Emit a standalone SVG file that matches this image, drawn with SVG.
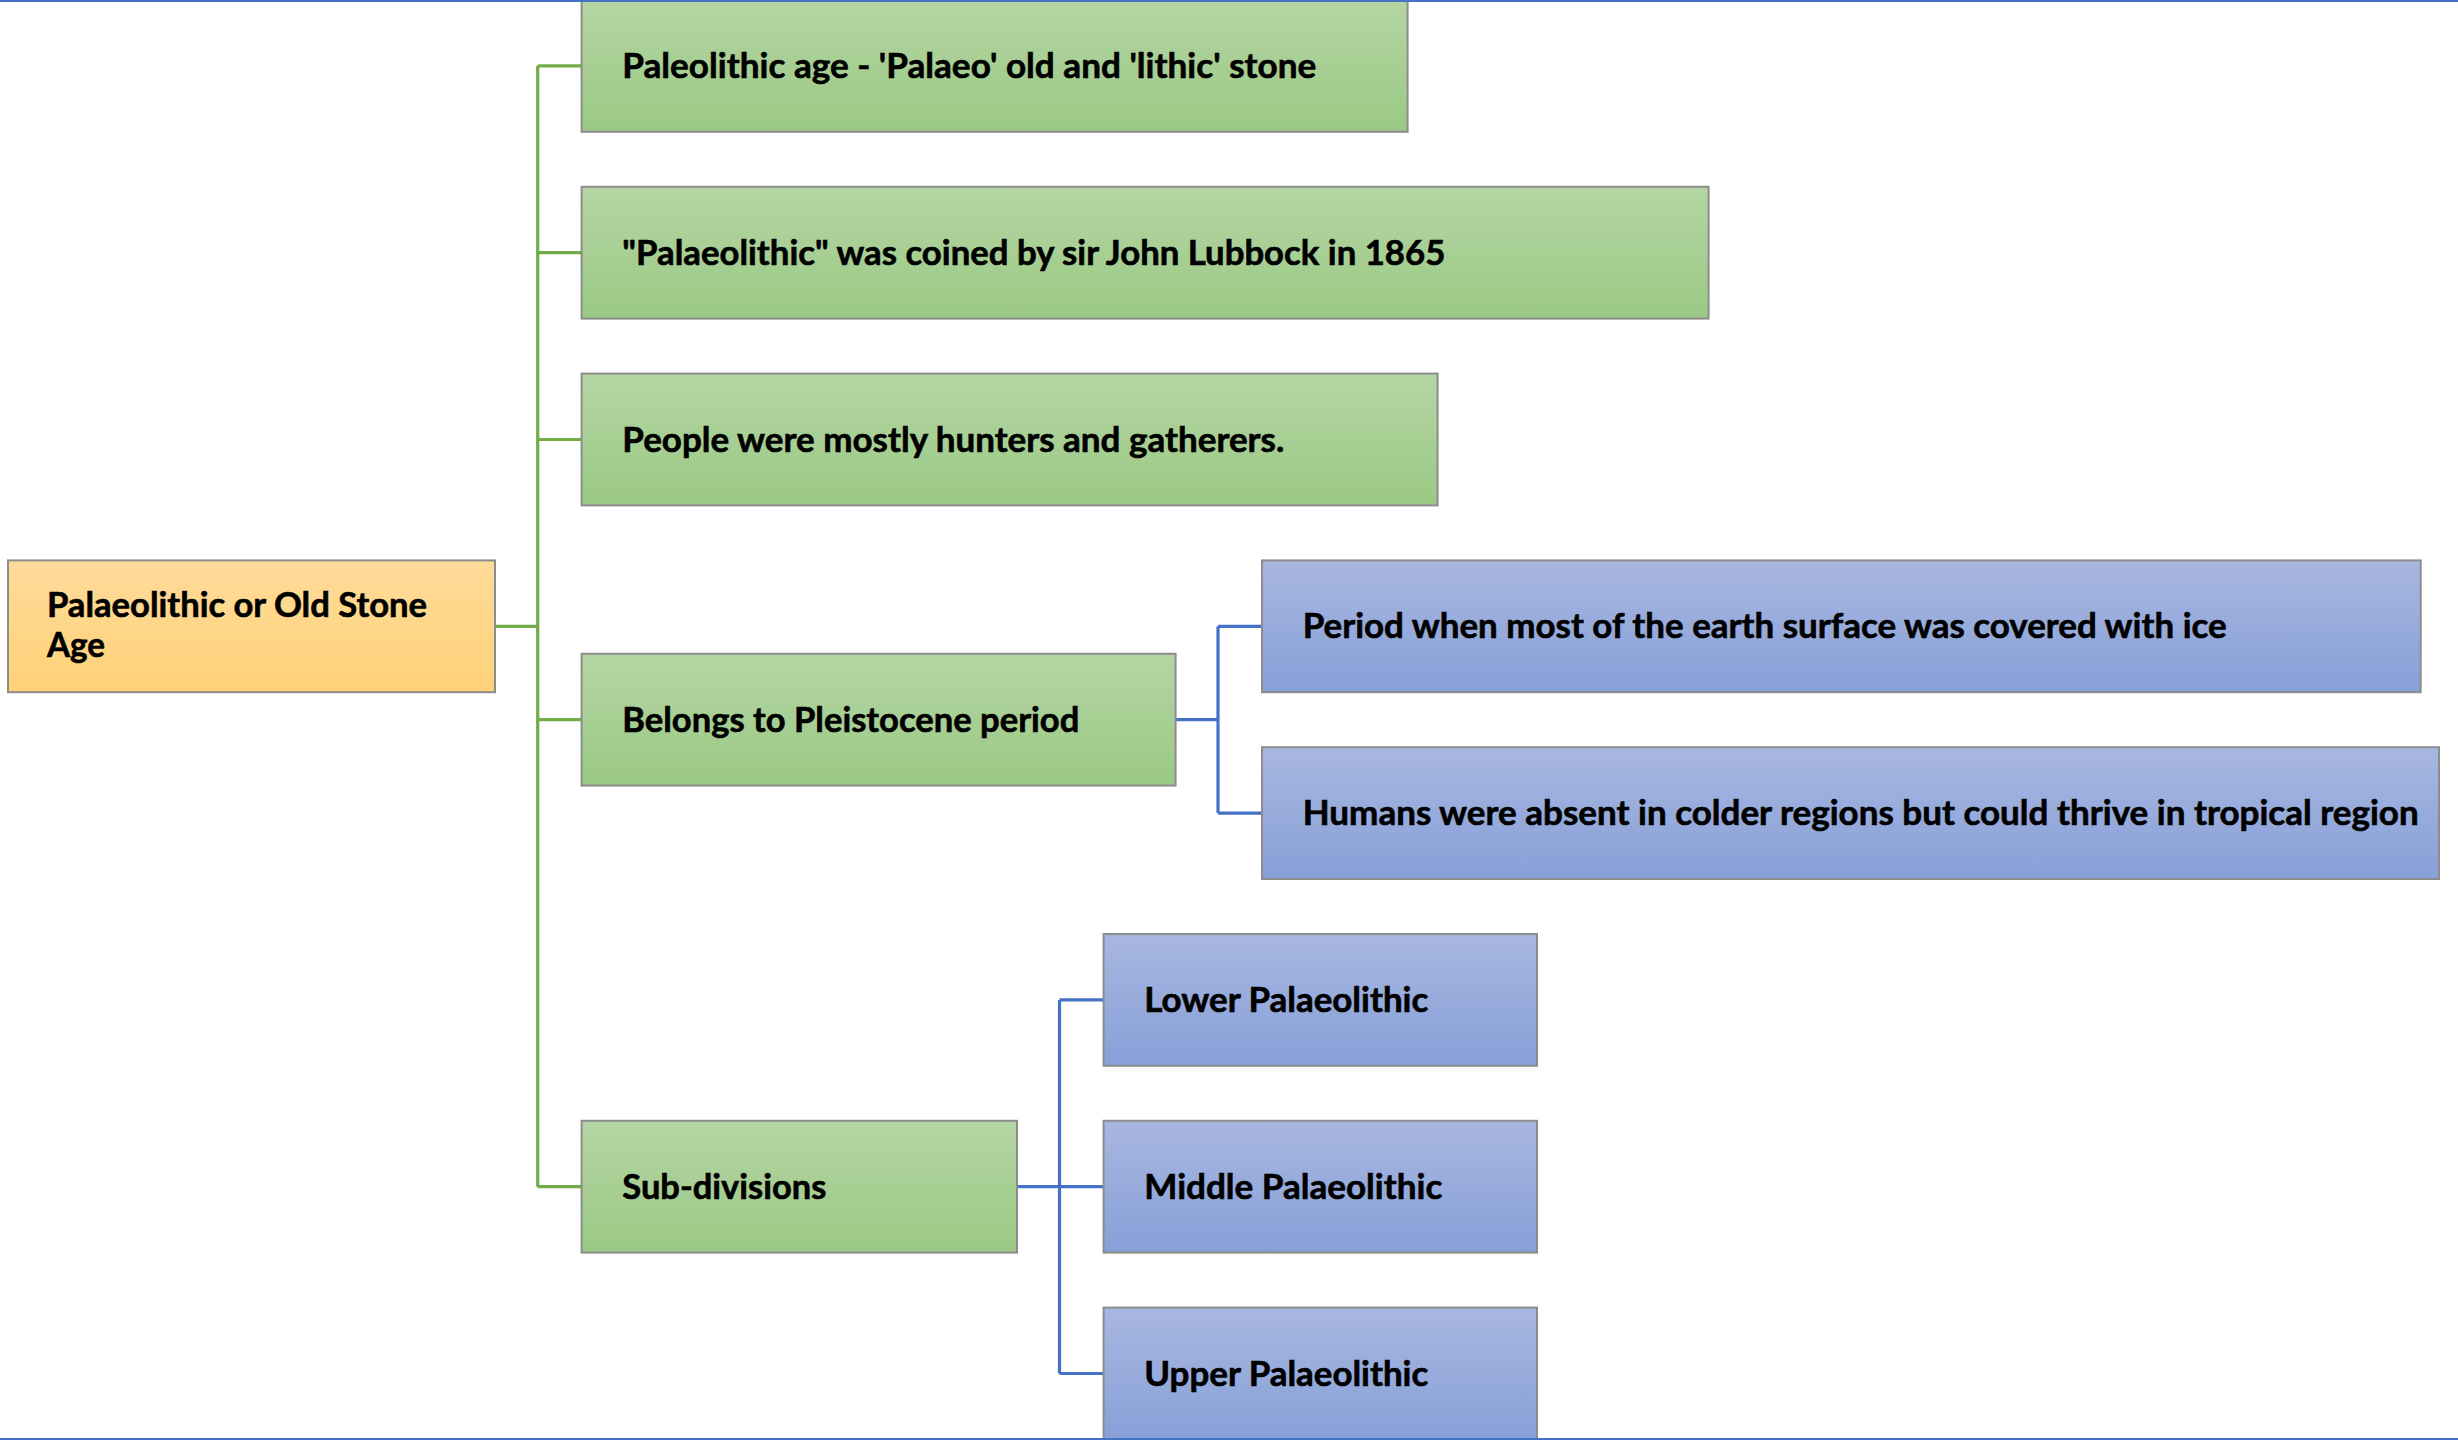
<svg xmlns="http://www.w3.org/2000/svg" width="2458" height="1440" viewBox="0 0 2458 1440">
  <defs>
    <linearGradient id="gGreen" x1="0" y1="0" x2="0" y2="1">
      <stop offset="0" stop-color="#b4d5a3"/>
      <stop offset="1" stop-color="#9bc985"/>
    </linearGradient>
    <linearGradient id="gGold" x1="0" y1="0" x2="0" y2="1">
      <stop offset="0" stop-color="#ffdb9a"/>
      <stop offset="1" stop-color="#ffd278"/>
    </linearGradient>
    <linearGradient id="gBlue" x1="0" y1="0" x2="0" y2="1">
      <stop offset="0" stop-color="#a8b7e0"/>
      <stop offset="1" stop-color="#87a0d8"/>
    </linearGradient>
  </defs>
  <style>
    .box { stroke: #8c8c8c; stroke-width: 2; }
    .green { fill: url(#gGreen); }
    .gold { fill: url(#gGold); }
    .blue { fill: url(#gBlue); }
    .lbl { font-family: Lato, "Liberation Sans", sans-serif; font-weight: 700; font-size: 34px; fill: #000; stroke: #000; stroke-width: 0.6; }
    .cg { fill: none; stroke: #70ad47; stroke-width: 3.2; }
    .cb { fill: none; stroke: #4472c4; stroke-width: 3.2; }
    .frame { stroke: #4472c4; stroke-width: 2; }
  </style>

  <rect width="2458" height="1440" fill="#ffffff"/>

  <!-- connectors -->
  <g id="connectors">
    <path class="cg" d="M495 626.3 H537.7"/>
    <path class="cg" d="M537.7 65.9 V1186.7"/>
    <path class="cg" d="M537.7 65.9 H582"/>
    <path class="cg" d="M537.7 252.7 H582"/>
    <path class="cg" d="M537.7 439.5 H582"/>
    <path class="cg" d="M537.7 719.7 H582"/>
    <path class="cg" d="M537.7 1186.7 H582"/>
    <path class="cb" d="M1175.7 719.7 H1218"/>
    <path class="cb" d="M1218 626.3 V813.1"/>
    <path class="cb" d="M1218 626.3 H1262"/>
    <path class="cb" d="M1218 813.1 H1262"/>
    <path class="cb" d="M1017 1186.7 H1103.6"/>
    <path class="cb" d="M1059.5 999.9 V1373.5"/>
    <path class="cb" d="M1059.5 999.9 H1103.6"/>
    <path class="cb" d="M1059.5 1373.5 H1103.6"/>
  </g>

  <!-- root -->
  <g id="root">
    <rect class="box gold" x="8" y="560.4" width="487" height="131.8"/>
    <text class="lbl" x="47" y="617" textLength="380" lengthAdjust="spacingAndGlyphs">Palaeolithic or Old Stone</text>
    <text class="lbl" x="47" y="657" textLength="58" lengthAdjust="spacingAndGlyphs">Age</text>
  </g>

  <!-- first level -->
  <g id="n-name">
    <rect class="box green" x="581.6" y="-2" width="826" height="133.8"/>
    <text class="lbl" x="622.3" y="77.9" textLength="694" lengthAdjust="spacingAndGlyphs">Paleolithic age - 'Palaeo' old and 'lithic' stone</text>
  </g>
  <g id="n-coined">
    <rect class="box green" x="581.6" y="186.8" width="1127" height="131.8"/>
    <text class="lbl" x="622.3" y="264.7" textLength="823" lengthAdjust="spacingAndGlyphs">"Palaeolithic" was coined by sir John Lubbock in 1865</text>
  </g>
  <g id="n-hunters">
    <rect class="box green" x="581.6" y="373.6" width="856" height="131.8"/>
    <text class="lbl" x="622.3" y="451.5" textLength="662" lengthAdjust="spacingAndGlyphs">People were mostly hunters and gatherers.</text>
  </g>
  <g id="n-pleistocene">
    <rect class="box green" x="581.6" y="653.8" width="594" height="131.8"/>
    <text class="lbl" x="622.3" y="731.7" textLength="457" lengthAdjust="spacingAndGlyphs">Belongs to Pleistocene period</text>
  </g>
  <g id="n-subdivisions">
    <rect class="box green" x="581.6" y="1120.8" width="435.4" height="131.8"/>
    <text class="lbl" x="622.3" y="1198.7" textLength="204" lengthAdjust="spacingAndGlyphs">Sub-divisions</text>
  </g>

  <!-- second level -->
  <g id="n-ice">
    <rect class="box blue" x="1262" y="560.4" width="1158.7" height="131.8"/>
    <text class="lbl" x="1302.7" y="638.3" textLength="924" lengthAdjust="spacingAndGlyphs">Period when most of the earth surface was covered with ice</text>
  </g>
  <g id="n-tropical">
    <rect class="box blue" x="1262" y="747.2" width="1177" height="131.8"/>
    <text class="lbl" x="1302.7" y="825.1" textLength="1116" lengthAdjust="spacingAndGlyphs">Humans were absent in colder regions but could thrive in tropical region</text>
  </g>
  <g id="n-lower">
    <rect class="box blue" x="1103.6" y="934" width="433.4" height="131.8"/>
    <text class="lbl" x="1144.3" y="1011.9" textLength="284" lengthAdjust="spacingAndGlyphs">Lower Palaeolithic</text>
  </g>
  <g id="n-middle">
    <rect class="box blue" x="1103.6" y="1120.8" width="433.4" height="131.8"/>
    <text class="lbl" x="1144.3" y="1198.7" textLength="298" lengthAdjust="spacingAndGlyphs">Middle Palaeolithic</text>
  </g>
  <g id="n-upper">
    <rect class="box blue" x="1103.6" y="1307.6" width="433.4" height="133"/>
    <text class="lbl" x="1144.3" y="1385.5" textLength="284" lengthAdjust="spacingAndGlyphs">Upper Palaeolithic</text>
  </g>

  <!-- page edges -->
  <line class="frame" x1="0" y1="1" x2="2458" y2="1"/>
  <line class="frame" x1="0" y1="1439" x2="2458" y2="1439"/>
</svg>
